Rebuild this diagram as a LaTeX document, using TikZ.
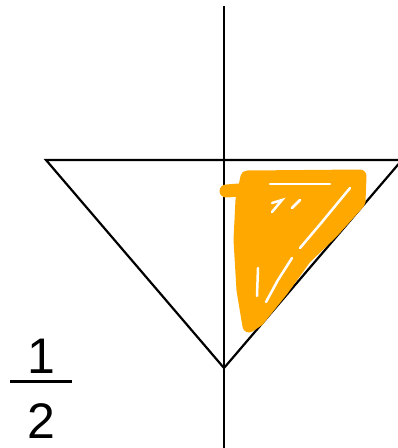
\documentclass[tikz,border=0pt]{standalone}
\usepackage{fontspec}
\setmainfont{Liberation Sans}
\usepackage{tikz}
\usetikzlibrary{calc}
\definecolor{cScribble}{HTML}{FFA800}

\begin{document}
\begin{tikzpicture}[
    x=1pt, y=-1pt,
    axis/.style={line width=2.2pt, draw=black},
    edge/.style={line width=2.2pt, draw=black, line join=miter},
    scribble/.style={line width=13pt, draw=cScribble, line cap=round, line join=round},
    gap/.style={line width=2.5pt, draw=white, line cap=round},
    digit/.style={font=\fontsize{50}{50}\selectfont, inner sep=0pt},
  ]
  \useasboundingbox (0,0) rectangle (398,448);
  % the triangle and its axis
  \coordinate (tl) at (46,160);
  \coordinate (tr) at (402,160);
  \coordinate (apex) at (224,368);
  \coordinate (top) at (224,6);
  \coordinate (bottom) at (224,448);
  \draw[edge] (tl) -- (tr) -- (apex) -- cycle;
  \draw[axis] (top) -- (bottom);
  % shaded half
  \fill[cScribble] (246,178) -- (360,176) -- (358,205) -- (330,235) -- (305,258)
    -- (280,292) -- (258,320) -- (248,326) -- (243,290) -- (240,240) -- (242,200) -- cycle;
  \draw[scribble] (247,177) -- (360,176) -- (359,202) -- (332,232) -- (305,258)
    -- (282,290) -- (258,320) -- (249,326) -- (243,290) -- (240,240) -- (242,200) -- cycle;
  \draw[scribble] (226,191) -- (252,189);
  \draw[gap] (270,184) -- (330,184);
  \draw[gap] (272,203) -- (282,200) -- (272,212);
  \draw[gap] (350,188) -- (322,222) -- (300,248);
  \draw[gap] (292,258) -- (278,280) -- (266,302);
  \draw[gap] (258,268) -- (257,296);
  \draw[gap] (300,200) -- (292,208);
  % the fraction
  \node[digit] (one) at (41,356) {1};
  \node[digit] (two) at (41,421) {2};
  \draw[line width=2.2pt] ($(one.south)+(-31,8)$) -- ($(one.south)+(31,8)$);
\end{tikzpicture}
\end{document}
